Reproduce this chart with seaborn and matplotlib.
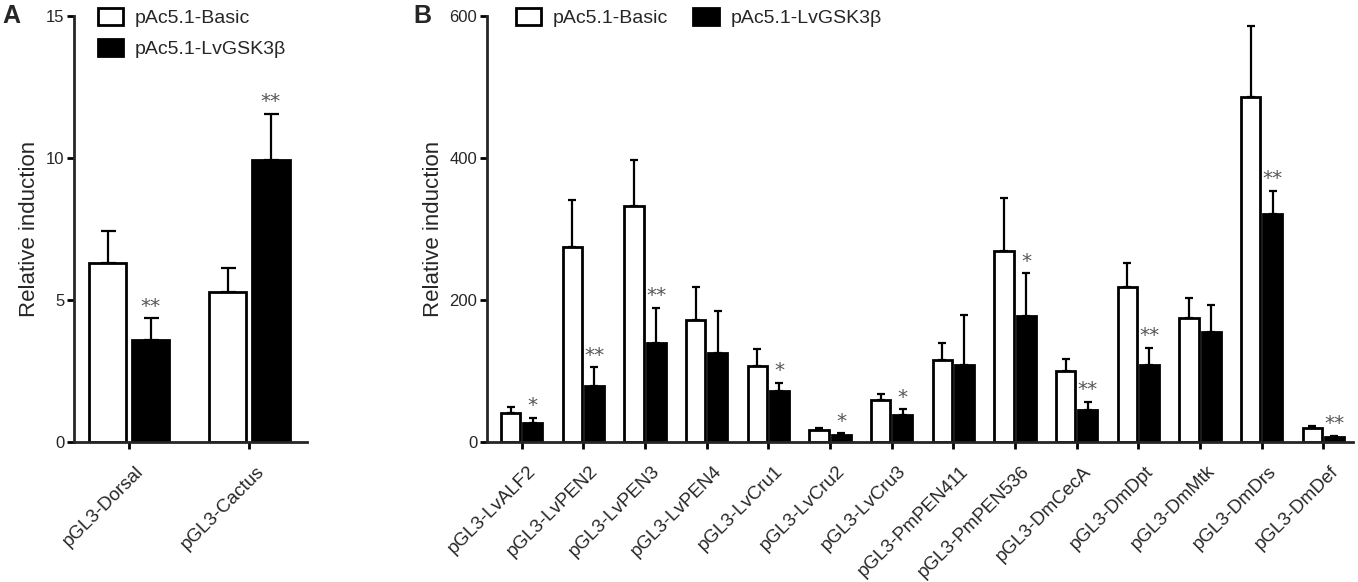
import numpy as np
import pandas as pd
import matplotlib
matplotlib.use('Agg')
import matplotlib.pyplot as plt
import matplotlib.transforms as mtransforms
import seaborn as sns

# ---- data ---- #
groups = ['pAc5.1-Basic', 'pAc5.1-LvGSK3β']

genes_a = ['pGL3-Dorsal', 'pGL3-Cactus']
basic_a = [6.29, 5.28]
basic_a_up = [7.43, 6.13]
gsk_a = [3.59, 9.91]
gsk_a_up = [4.35, 11.54]
stars_a = ['**', '**']

genes_b = ['pGL3-LvALF2', 'pGL3-LvPEN2', 'pGL3-LvPEN3', 'pGL3-LvPEN4', 'pGL3-LvCru1',
           'pGL3-LvCru2', 'pGL3-LvCru3', 'pGL3-PmPEN411', 'pGL3-PmPEN536', 'pGL3-DmCecA',
           'pGL3-DmDpt', 'pGL3-DmMtk', 'pGL3-DmDrs', 'pGL3-DmDef']
basic_b = [40.4, 274.4, 331.7, 171.7, 106.5, 16.4, 59.1, 115.4, 268.8, 100.4, 217.7, 175.0, 485.6, 19.7]
basic_b_up = [48.8, 340.6, 396.9, 218.2, 130.5, 19.2, 67.1, 138.9, 343.9, 116.8, 251.9, 202.7, 585.5, 22.1]
gsk_b = [27.2, 79.3, 139.3, 125.7, 71.3, 9.9, 38.4, 107.9, 177.8, 45.5, 107.9, 154.4, 320.5, 7.5]
gsk_b_up = [34.2, 105.1, 188.6, 184.4, 83.5, 12.2, 46.0, 178.7, 237.4, 56.3, 132.7, 192.8, 353.3, 8.4]
stars_b = ['*', '**', '**', '', '*', '*', '*', '', '*', '**', '**', '', '**', '**']

sns.set_style('ticks')
plt.rcParams['font.family'] = ['Liberation Sans', 'DejaVu Sans']

fig = plt.figure(figsize=(13.58, 5.82), dpi=100)
W, H = 1358, 582


def px_axes(l, t, r, b):
    return fig.add_axes([l / W, 1 - b / H, (r - l) / W, (b - t) / H])


def panel(ax, genes, basic, basic_up, gsk, gsk_up, stars, ymax, yticks, xlim, capsize):
    df = pd.DataFrame({
        'gene': genes * 2,
        'group': [groups[0]] * len(genes) + [groups[1]] * len(genes),
        'value': basic + gsk,
    })
    sns.barplot(data=df, x='gene', y='value', hue='group', hue_order=groups,
                palette=['white', 'black'], edgecolor='black', linewidth=2,
                width=0.72, gap=0.14, errorbar=None, ax=ax, legend=False)
    for cont, vals, ups in zip(ax.containers, [basic, gsk], [basic_up, gsk_up]):
        xs = [p.get_x() + p.get_width() / 2 for p in cont]
        err = np.array(ups) - np.array(vals)
        ax.errorbar(xs, vals, yerr=[np.zeros(len(vals)), err], fmt='none',
                    ecolor='black', elinewidth=1.6, capsize=capsize, capthick=1.6, zorder=1)
    xs_g = [p.get_x() + p.get_width() / 2 for p in ax.containers[1]]
    for x, up, s in zip(xs_g, gsk_up, stars):
        if s:
            ax.annotate(s, (x, up), xytext=(0, 2), textcoords='offset points',
                        ha='center', va='bottom', fontsize=14.5, color='#555555',
                        family='DejaVu Sans')
    ax.set_ylim(0, ymax)
    ax.set_yticks(yticks)
    ax.set_xlim(*xlim)
    ax.set_xlabel('')
    ax.set_ylabel('Relative induction', fontsize=16, labelpad=4)
    sns.despine(ax=ax)
    for sp in ['left', 'bottom']:
        ax.spines[sp].set_linewidth(2)
    ax.tick_params(axis='both', width=2, length=5, color='black', pad=2)
    ax.tick_params(axis='y', labelsize=12)
    ax.tick_params(axis='x', labelsize=13.5)
    offset = mtransforms.ScaledTranslation(6 / 100, -11 / 100, fig.dpi_scale_trans)
    for lab in ax.get_xticklabels():
        lab.set_rotation(45)
        lab.set_ha('right')
        lab.set_va('top')
        lab.set_rotation_mode('anchor')
        lab.set_transform(lab.get_transform() + offset)
    handles = [ax.containers[0][0], ax.containers[1][0]]
    return handles


ax_a = px_axes(74, 15.7, 307, 442)
h = panel(ax_a, genes_a, basic_a, basic_a_up, gsk_a, gsk_a_up, stars_a,
          15, [0, 5, 10, 15], (-0.46, 1.48), 5.4)
ax_a.legend(h, groups, loc='upper left', bbox_to_anchor=(98 / W, 1 - 8 / H),
            bbox_transform=fig.transFigure, frameon=False, fontsize=14,
            handlelength=1.3, handleheight=1.0, handletextpad=0.6,
            labelspacing=0.6, borderpad=0, borderaxespad=0)

ax_b = px_axes(487, 15.7, 1353, 442)
h = panel(ax_b, genes_b, basic_b, basic_b_up, gsk_b, gsk_b_up, stars_b,
          600, [0, 200, 400, 600], (-0.563, 13.48), 3)
ax_b.legend(h, groups, loc='upper left', bbox_to_anchor=(516 / W, 1 - 8 / H),
            bbox_transform=fig.transFigure, frameon=False, fontsize=14, ncol=2,
            handlelength=1.3, handleheight=1.0, handletextpad=0.6,
            columnspacing=1.3, borderpad=0, borderaxespad=0)

fig.text(2 / W, 1 - 4 / H, 'A', fontsize=18, fontweight='bold', va='top', ha='left')
fig.text(413 / W, 1 - 4 / H, 'B', fontsize=18, fontweight='bold', va='top', ha='left')

fig.savefig('out.png', dpi=100)
